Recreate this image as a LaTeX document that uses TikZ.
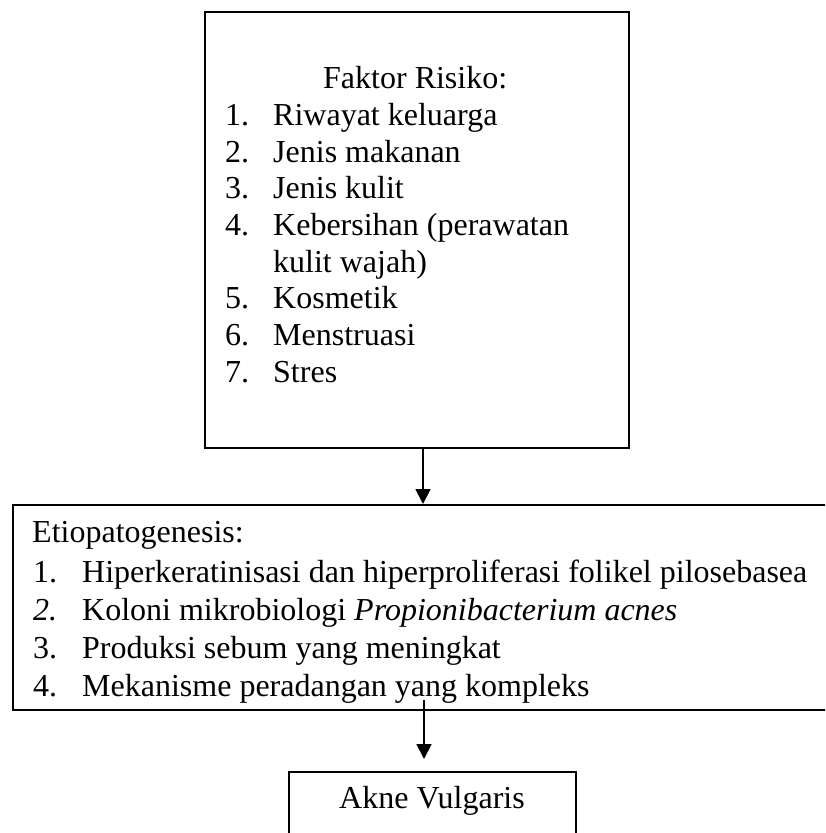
\documentclass[tikz,border=0pt]{standalone}
\usepackage{fontspec}
\setmainfont{Liberation Serif}
\usetikzlibrary{arrows.meta}
\begin{document}
\begin{tikzpicture}[x=1pt,y=-1pt,
  boxline/.style={draw=black, line width=1.8pt},
  txt/.style={anchor=base west, inner sep=0pt, font=\fontsize{32}{38}\selectfont},
  arr/.style={line width=1.8pt, -{Triangle[width=15pt,length=15pt]}}]
\useasboundingbox (0,0) rectangle (825,833);
\clip (0,0) rectangle (825,833);
% boxes
\node[boxline, anchor=north west, minimum width=424pt, minimum height=436pt, inner sep=0pt] (risk) at (204,11) {};
\node[boxline, anchor=north west, minimum width=840pt, minimum height=205pt, inner sep=0pt] (etio) at (12,504) {};
\node[boxline, anchor=north west, minimum width=287pt, minimum height=90pt, inner sep=0pt] (akne) at (288,771) {};
% top box text
\node[txt] (t0) at (323,88) {Faktor Risiko:};
\node[txt] (n1) at (225,125) {1.}; \node[txt] (t1) at (273,125) {Riwayat keluarga};
\node[txt] (n2) at (225,162) {2.}; \node[txt] (t2) at (273,162) {Jenis makanan};
\node[txt] (n3) at (225,198) {3.}; \node[txt] (t3) at (273,198) {Jenis kulit};
\node[txt] (n4) at (225,235) {4.}; \node[txt] (t4) at (273,235) {Kebersihan (perawatan};
\node[txt] (t4b) at (273,272) {kulit wajah)};
\node[txt] (n5) at (225,308) {5.}; \node[txt] (t5) at (273,308) {Kosmetik};
\node[txt] (n6) at (225,345) {6.}; \node[txt] (t6) at (273,345) {Menstruasi};
\node[txt] (n7) at (225,382) {7.}; \node[txt] (t7) at (273,382) {Stres};
% middle box text
\node[txt] (e0) at (32,542) {Etiopatogenesis:};
\node[txt] (m1) at (33,582) {1.}; \node[txt] (e1) at (82,582) {Hiperkeratinisasi dan hiperproliferasi folikel pilosebasea};
\node[txt] (m2) at (33,620) {\itshape 2.}; \node[txt] (e2) at (82,620) {Koloni mikrobiologi \textit{Propionibacterium acnes}};
\node[txt] (m3) at (33,658) {3.}; \node[txt] (e3) at (82,658) {Produksi sebum yang meningkat};
\node[txt] (m4) at (33,696) {4.}; \node[txt] (e4) at (82,696) {Mekanisme peradangan yang kompleks};
% bottom text
\node[txt] (a0) at (339,808) {Akne Vulgaris};
% connectors
\coordinate (c1s) at (423,447);
\coordinate (c1e) at (423,504);
\coordinate (c2s) at (424,700);
\coordinate (c2e) at (424,759);
\draw[arr] (c1s) -- (c1e);
\draw[arr] (c2s) -- (c2e);
\end{tikzpicture}
\end{document}
